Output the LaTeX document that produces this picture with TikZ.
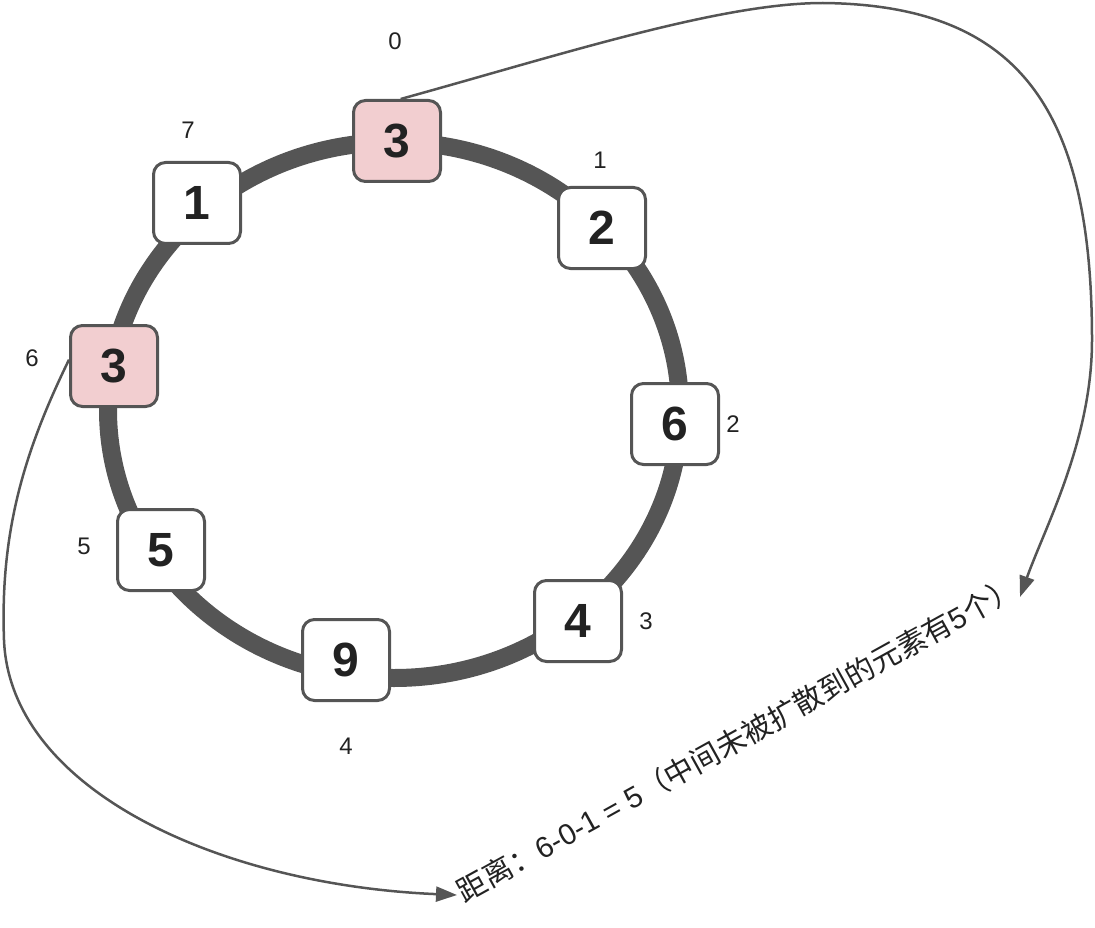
\documentclass[tikz,border=0pt]{standalone}
\usepackage{fontspec}
\setmainfont{Liberation Sans}
\newfontfamily\cjkfont{Noto Sans CJK SC}
\usetikzlibrary{arrows.meta}
\definecolor{ringgray}{HTML}{555555}
\definecolor{pinkfill}{HTML}{F2CED0}
\definecolor{numblack}{HTML}{222222}
\tikzset{
  elem/.style={draw=ringgray, line width=3pt, rounded corners=12pt, fill=white,
    minimum width=87pt, minimum height=81pt, inner sep=0pt,
    font=\fontsize{48}{52}\selectfont\bfseries, text=numblack},
  hit/.style={elem, fill=pinkfill},
  idx/.style={font=\fontsize{24}{26}\selectfont, text=numblack},
  arr/.style={draw=ringgray, line width=2.5pt, -{Triangle[length=21pt,width=15pt]}},
}
\begin{document}
\begin{tikzpicture}[x=1pt,y=-1pt]
\useasboundingbox (0,0) rectangle (1095,928);
% ring
\draw[ringgray, line width=18pt] (394,410) ellipse [x radius=286, y radius=268];
% elements
\node[hit]  (n0) at (397,141) {3};
\node[elem] (n1) at (602,228) {2};
\node[elem] (n2) at (675,424) {6};
\node[elem] (n3) at (578,621) {4};
\node[elem] (n4) at (346,660) {9};
\node[elem] (n5) at (161,550) {5};
\node[hit]  (n6) at (114,366) {3};
\node[elem] (n7) at (197,203) {1};
% indices
\node[idx] (i0) at (395,41) {0};
\node[idx] (i1) at (600,160) {1};
\node[idx] (i2) at (733,424) {2};
\node[idx] (i3) at (646,621) {3};
\node[idx] (i4) at (346,746) {4};
\node[idx] (i5) at (84,546) {5};
\node[idx] (i6) at (32,358) {6};
\node[idx] (i7) at (188,130) {7};
% label
\node[rotate=29, anchor=south west, inner sep=0pt, text=numblack,
  font=\fontsize{29.5}{33}\selectfont] (lbl) at (466,906)
  {{\cjkfont 距离：}6-0-1 = 5{\cjkfont （中间未被扩散到的元素有}5{\cjkfont 个）}};
\coordinate (t1) at (1020,597);
\coordinate (t2) at (457,895);
\draw[arr] (n0.85) .. controls (560,55) and (720,3) .. (823,3)
  .. controls (1020,5) and (1092,110) .. (1092,340)
  .. controls (1092,440) and (1045,527) .. (t1);
\draw[arr] (n6.172) .. controls (25,450) and (0,530) .. (4,640)
  .. controls (10,790) and (220,885) .. (t2);
\end{tikzpicture}
\end{document}
